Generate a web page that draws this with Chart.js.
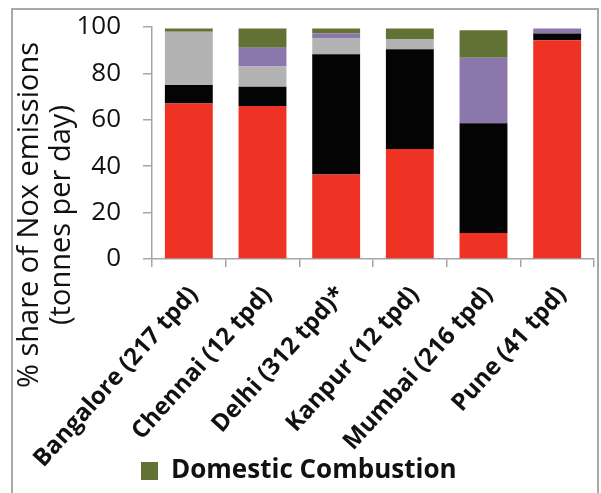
<!DOCTYPE html>
<html><head><meta charset="utf-8">
<script src="https://cdn.jsdelivr.net/npm/chart.js@4/dist/chart.umd.min.js"></script>
<style>
html,body{margin:0;padding:0;background:#fff;}
#wrap{position:relative;width:601px;height:493px;overflow:hidden;}
#frame{position:absolute;left:11px;top:8px;width:584px;height:500px;border:2px solid #a8a8a8;border-bottom:none;pointer-events:none;}
canvas{position:absolute;left:0;top:0;}
</style></head>
<body>
<div id="wrap"><canvas id="c" width="601" height="493"></canvas><div id="frame"></div></div>
<script>
const categories = ['Bangalore (217 tpd)','Chennai (12 tpd)','Delhi (312 tpd)*','Kanpur (12 tpd)','Mumbai (216 tpd)','Pune (41 tpd)'];
const seriesNames = ['Transport','Industries','Power Plants','Generator Sets','Domestic Combustion'];
const transport  = [67, 66, 36.4, 47.4, 11.2, 94.3];
const industries = [8, 8.2, 51.9, 43, 47.3, 2.9];
const power      = [22.9, 8.8, 6.7, 4.4, 0, 0];
const gensets    = [0, 8.1, 2.2, 0, 28.2, 2.1];
const domestic   = [1.4, 8.2, 2.1, 4.5, 11.9, 0];
const yTicks = [0, 20, 40, 60, 80, 100];
const colors = ['#EE3224','#040404','#B3B3B3','#8C77AD','#627234'];

const seriesData = [transport, industries, power, gensets, domestic];
const datasets = seriesData.map((d,i)=>({label:seriesNames[i], data:d, backgroundColor:colors[i], borderWidth:0, barPercentage:0.65, categoryPercentage:1}));

const layoutTweaks = {id:'layoutTweaks', beforeDraw(chart){
  const lg = chart.legend;
  lg.left = 131; lg.top = 448; lg.right = 595; lg.bottom = 493;
  lg.width = lg.right - lg.left; lg.height = lg.bottom - lg.top;
  const s = chart.scales.y;
  if (!s._titleShifted) {
    const orig = s.drawTitle.bind(s);
    s.drawTitle = function(){ const ctx = this.ctx; ctx.save(); ctx.translate(0, 72); orig(); ctx.restore(); };
    s._titleShifted = true;
  }
}};

new Chart(document.getElementById('c'), {
  type:'bar',
  data:{labels:categories, datasets},
  plugins:[layoutTweaks],
  options:{
    responsive:false, animation:false,
    layout:{padding:{top:0,right:7,left:12,bottom:0}},
    plugins:{
      tooltip:{enabled:false},
      legend:{position:'chartArea', align:'start',
        labels:{filter:(item)=>item.text==='Domestic Combustion', boxWidth:17, boxHeight:18, padding:10,
          color:'#111', font:{family:'Open Sans', size:26, weight:'bold'}}}
    },
    scales:{
      x:{stacked:true,
        afterFit:(s)=>{ s.height = 234; s.paddingLeft = 0; },
        grid:{drawOnChartArea:false, offset:true, tickLength:8, color:'#a6a6a6', lineWidth:1.5},
        border:{color:'#a6a6a6', width:1.5},
        ticks:{minRotation:48, maxRotation:48, labelOffset:5, padding:14, color:'#111', font:{family:'Open Sans', size:24, weight:'bold'}}
      },
      y:{stacked:true, min:0, max:100,
        afterFit:(s)=>{ s.width = 140; s.paddingTop = 27; s.paddingBottom = 10; },
        afterBuildTicks:(s)=>{ s.ticks = yTicks.map(v=>({value:v})); },
        grid:{drawOnChartArea:false, tickLength:9, color:'#a6a6a6', lineWidth:1.5},
        border:{color:'#a6a6a6', width:1.5},
        ticks:{padding:22, color:'#111', font:{family:'Open Sans', size:26}},
        title:{display:true, text:['% share of Nox emissions','(tonnes per day)'], color:'#111', padding:{top:2,bottom:4}, font:{family:'Open Sans', size:29, lineHeight:1.1}}
      }
    }
  }
});
</script>
</body></html>
